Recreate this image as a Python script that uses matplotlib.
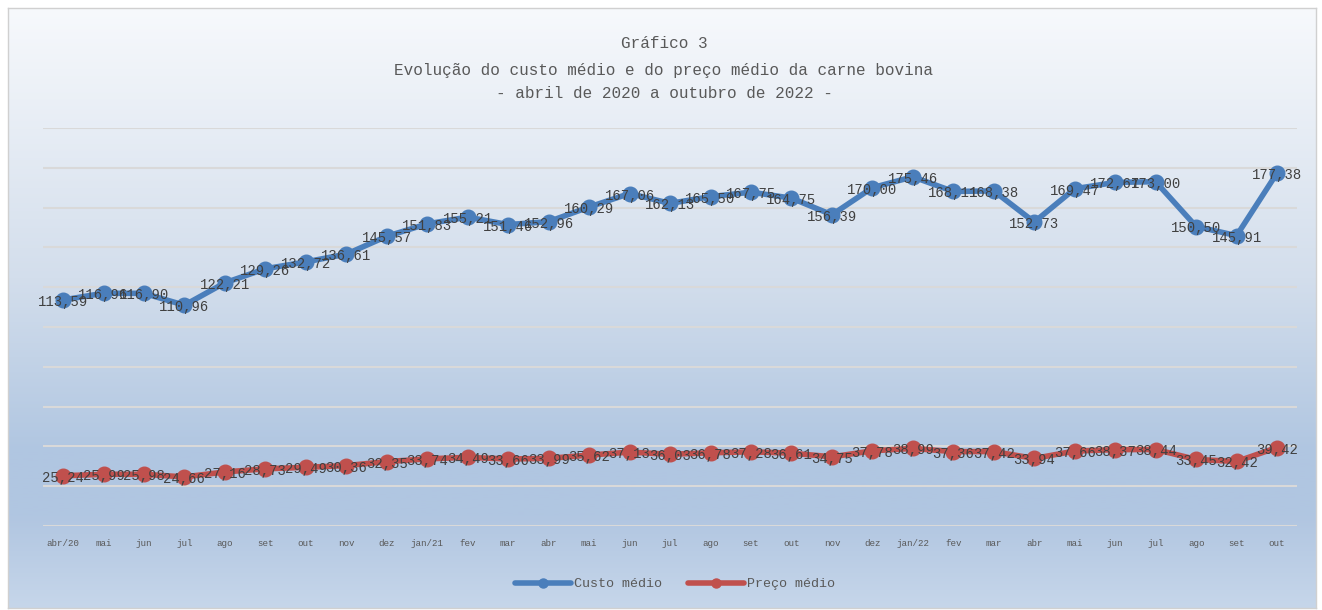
import matplotlib
matplotlib.use("Agg")
import matplotlib.pyplot as plt
import numpy as np
from matplotlib.colors import LinearSegmentedColormap

months = ["abr/20", "mai", "jun", "jul", "ago", "set", "out", "nov", "dez",
          "jan/21", "fev", "mar", "abr", "mai", "jun", "jul", "ago", "set", "out", "nov", "dez",
          "jan/22", "fev", "mar", "abr", "mai", "jun", "jul", "ago", "set", "out"]
custo = [113.59, 116.96, 116.90, 110.96, 122.21, 129.26, 132.72, 136.61, 145.57,
         151.83, 155.21, 151.46, 152.96, 160.29, 167.06, 162.13, 165.50, 167.75, 164.75, 156.39, 170.00,
         175.46, 168.11, 168.38, 152.73, 169.47, 172.67, 173.00, 150.50, 145.91, 177.38]
preco = [25.24, 25.99, 25.98, 24.66, 27.16, 28.73, 29.49, 30.36, 32.35,
         33.74, 34.49, 33.66, 33.99, 35.62, 37.13, 36.03, 36.78, 37.28, 36.61, 34.75, 37.78,
         38.99, 37.36, 37.42, 33.94, 37.66, 38.37, 38.44, 33.45, 32.42, 39.42]
title_lines = ["Gráfico 3",
               "Evolução do custo médio e do preço médio da carne bovina",
               "- abril de 2020 a outubro de 2022 -"]

FONT = ["Liberation Mono", "DejaVu Sans Mono"]
plt.rcParams['font.family'] = FONT

W, H = 1322, 610
fig = plt.figure(figsize=(W / 100, H / 100), dpi=100)
fig.patch.set_facecolor("white")

# background gradient panel with border
bg = fig.add_axes([8 / W, 1 - 608 / H, (1316 - 8) / W, (608 - 8) / H])
cmap = LinearSegmentedColormap.from_list("g", [(0.0, "#f7f9fc"), (0.45, "#d3deec"),
                                              (0.74, "#b0c6e1"), (0.85, "#b1c6e1"),
                                              (1.0, "#c6d6ea")])
grad = np.linspace(0, 1, 256).reshape(-1, 1)
bg.imshow(grad, aspect="auto", cmap=cmap, extent=[0, 1, 0, 1], origin="upper")
bg.set_xticks([]); bg.set_yticks([])
for s in bg.spines.values():
    s.set_color("#d0d0d0"); s.set_linewidth(1)
bg.set_zorder(0)

x0, x1 = 42.8, 1297.3
ytop, ybot = 128, 526
ax = fig.add_axes([x0 / W, 1 - ybot / H, (x1 - x0) / W, (ybot - ytop) / H])
ax.set_zorder(1)
ax.patch.set_alpha(0)
x = np.arange(len(months))
ax.set_xlim(-0.5, len(months) - 0.5)
ax.set_ylim(0, 200)
ax.set_yticks(np.arange(0, 201, 20))
ax.yaxis.grid(True, color="#d9d9d9", linewidth=1.5)
ax.set_axisbelow(True)
ax.tick_params(axis="y", left=False, labelleft=False)
ax.set_xticks(x)
ax.set_xticklabels(months, fontsize=6.6, color="#595959")
ax.tick_params(axis="x", length=0, pad=9)
for s in ax.spines.values():
    s.set_visible(False)

blue, red = "#4a7ebb", "#c0504d"
ax.plot(x, custo, color=blue, lw=4.0, marker="o", ms=10.5, label="Custo médio",
        solid_capstyle="round", solid_joinstyle="round")
ax.plot(x, preco, color=red, lw=4.0, marker="o", ms=10.5, label="Preço médio",
        solid_capstyle="round", solid_joinstyle="round")

for xi, v in zip(x, custo):
    ax.text(xi, v - 1, f"{v:.2f}".replace(".", ","), ha="center", va="center",
            fontsize=10, color="#404040")
for xi, v in zip(x, preco):
    ax.text(xi, v - 1, f"{v:.2f}".replace(".", ","), ha="center", va="center",
            fontsize=10, color="#404040")

for i, (t, yy) in enumerate(zip(title_lines, [44, 70, 94])):
    fig.text(664 / W, 1 - yy / H, t, ha="center", va="center", fontsize=11.5, color="#595959")

leg = fig.legend(loc="center", bbox_to_anchor=(675 / W, 1 - 584 / H), ncol=2, frameon=False,
                 fontsize=9.6, handlelength=4.2, columnspacing=2.0, handletextpad=0.2)
for t in leg.get_texts():
    t.set_color("#595959")
for h in leg.legend_handles:
    h.set_markersize(6.5)

fig.savefig("out.png", dpi=100)
